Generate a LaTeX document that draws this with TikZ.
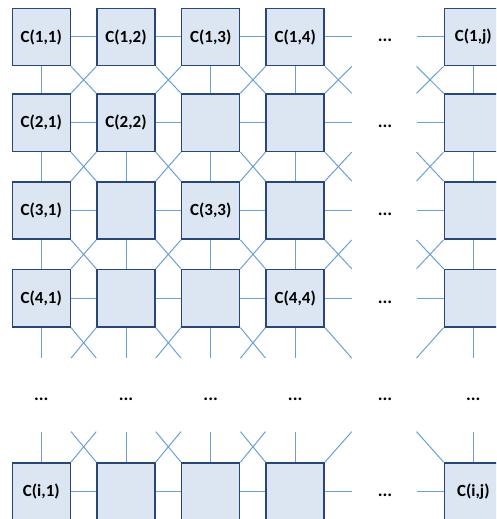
\documentclass[tikz,border=0pt]{standalone}
\usepackage{fontspec}
\setmainfont{Carlito}
\definecolor{cellfill}{HTML}{DCE6F2}
\definecolor{celldraw}{HTML}{2A4679}
\definecolor{link}{HTML}{6C9FD6}
\tikzset{
  cell/.style={draw=celldraw, fill=cellfill, line width=1.5pt, minimum width=58pt,
    minimum height=57.4pt, inner sep=0pt, font=\bfseries\fontsize{17}{20}\selectfont, text=black},
  conn/.style={draw=link, line width=1pt},
  dotsnode/.style={font=\bfseries\fontsize{18}{20}\selectfont, inner sep=0pt, text=black}
}
\begin{document}
\begin{tikzpicture}[x=1pt,y=-1pt]
\clip (0,0) rectangle (496,519);
\def\J{j}
% cells
\node[cell] (b11) at (41.3,37) {C(1,1)};
\node[cell] (b12) at (126,37) {C(1,2)};
\node[cell] (b13) at (210.7,37) {C(1,3)};
\node[cell] (b14) at (295.2,37) {C(1,4)};
\node[cell] (b1j) at (473.3,37) {C(1,j)};
\node[cell] (b21) at (41.3,122.7) {C(2,1)};
\node[cell] (b22) at (126,122.7) {C(2,2)};
\node[cell] (b23) at (210.7,122.7) {};
\node[cell] (b24) at (295.2,122.7) {};
\node[cell] (b2j) at (473.3,122.7) {};
\node[cell] (b31) at (41.3,210.5) {C(3,1)};
\node[cell] (b32) at (126,210.5) {};
\node[cell] (b33) at (210.7,210.5) {C(3,3)};
\node[cell] (b34) at (295.2,210.5) {};
\node[cell] (b3j) at (473.3,210.5) {};
\node[cell] (b41) at (41.3,298.2) {C(4,1)};
\node[cell] (b42) at (126,298.2) {};
\node[cell] (b43) at (210.7,298.2) {};
\node[cell] (b44) at (295.2,298.2) {C(4,4)};
\node[cell] (b4j) at (473.3,298.2) {};
\node[cell] (bi1) at (41.3,491.5) {C(i,1)};
\node[cell] (bi2) at (126,491.5) {};
\node[cell] (bi3) at (210.7,491.5) {};
\node[cell] (bi4) at (295.2,491.5) {};
\node[cell] (bij) at (473.3,491.5) {C(i,j)};
% dots
\node[dotsnode] (d1) at (385,40.7) {...};
\node[dotsnode] (d2) at (385,126.4) {...};
\node[dotsnode] (d3) at (385,214.2) {...};
\node[dotsnode] (d4) at (385,301.9) {...};
\node[dotsnode] (di) at (385,495.2) {...};
\node[dotsnode] (m1) at (41.3,399) {...};
\node[dotsnode] (m2) at (126,399) {...};
\node[dotsnode] (m3) at (210.7,399) {...};
\node[dotsnode] (m4) at (295.2,399) {...};
\node[dotsnode] (m5) at (385,399) {...};
\node[dotsnode] (m6) at (473.3,399) {...};
% horizontal links
\foreach \r in {1,2,3,4,i}{
  \coordinate (hr\r) at ([xshift=26.8pt]b\r4.east);
  \coordinate (hl\r) at ([xshift=-27pt]b\r\J.west);
  \draw[conn] (b\r1) -- (b\r2);
  \draw[conn] (b\r2) -- (b\r3);
  \draw[conn] (b\r3) -- (b\r4);
  \draw[conn] (b\r4.east) -- (hr\r);
  \draw[conn] (hl\r) -- (b\r\J.west);
}
% vertical links
\foreach \c in {1,3,4,j}{
  \draw[conn] (b1\c) -- (b2\c);
}
\foreach \c in {1,2,3,4,j}{
  \coordinate (vd\c) at ([yshift=-30.4pt]b4\c.south);
  \coordinate (vu\c) at ([yshift=30.4pt]bi\c.north);
  \draw[conn] (b2\c) -- (b3\c);
  \draw[conn] (b3\c) -- (b4\c);
  \draw[conn] (b4\c.south) -- (vd\c);
  \draw[conn] (vu\c) -- (bi\c.north);
}
% diagonal crosses between full rows
\foreach \r/\n in {1/2,2/3,3/4}{
  \foreach \c/\m in {1/2,2/3,3/4}{
    \draw[conn] (b\r\c.south east) -- (b\n\m.north west);
    \draw[conn] (b\r\m.south west) -- (b\n\c.north east);
  }
  \coordinate (xa\r) at ([xshift=26.8pt]b\n4.north east);
  \coordinate (xb\r) at ([xshift=26.8pt]b\r4.south east);
  \draw[conn] (b\r4.south east) -- (xa\r);
  \draw[conn] (b\n4.north east) -- (xb\r);
  \coordinate (ya\r) at ([xshift=-27pt]b\n\J.north west);
  \coordinate (yb\r) at ([xshift=-27pt]b\r\J.south west);
  \draw[conn] (b\r\J.south west) -- (ya\r);
  \draw[conn] (b\n\J.north west) -- (yb\r);
}
% stubs below row 4 and above row i
\foreach \c/\m in {1/2,2/3,3/4}{
  \coordinate (sa\c) at ([yshift=-30.4pt]b4\m.south west);
  \coordinate (sb\c) at ([yshift=-30.4pt]b4\c.south east);
  \draw[conn] (b4\c.south east) -- (sa\c);
  \draw[conn] (b4\m.south west) -- (sb\c);
  \coordinate (ta\c) at ([yshift=30.4pt]bi\m.north west);
  \coordinate (tb\c) at ([yshift=30.4pt]bi\c.north east);
  \draw[conn] (bi\c.north east) -- (ta\c);
  \draw[conn] (bi\m.north west) -- (tb\c);
}
\coordinate (s4r) at ([shift={(26.8pt,-30.4pt)}]b44.south east);
\coordinate (sjl) at ([shift={(-27pt,-30.4pt)}]b4j.south west);
\coordinate (t4r) at ([shift={(26.8pt,30.4pt)}]bi4.north east);
\coordinate (tjl) at ([shift={(-27pt,30.4pt)}]bij.north west);
\draw[conn] (b44.south east) -- (s4r);
\draw[conn] (b4j.south west) -- (sjl);
\draw[conn] (bi4.north east) -- (t4r);
\draw[conn] (bij.north west) -- (tjl);
\end{tikzpicture}
\end{document}
